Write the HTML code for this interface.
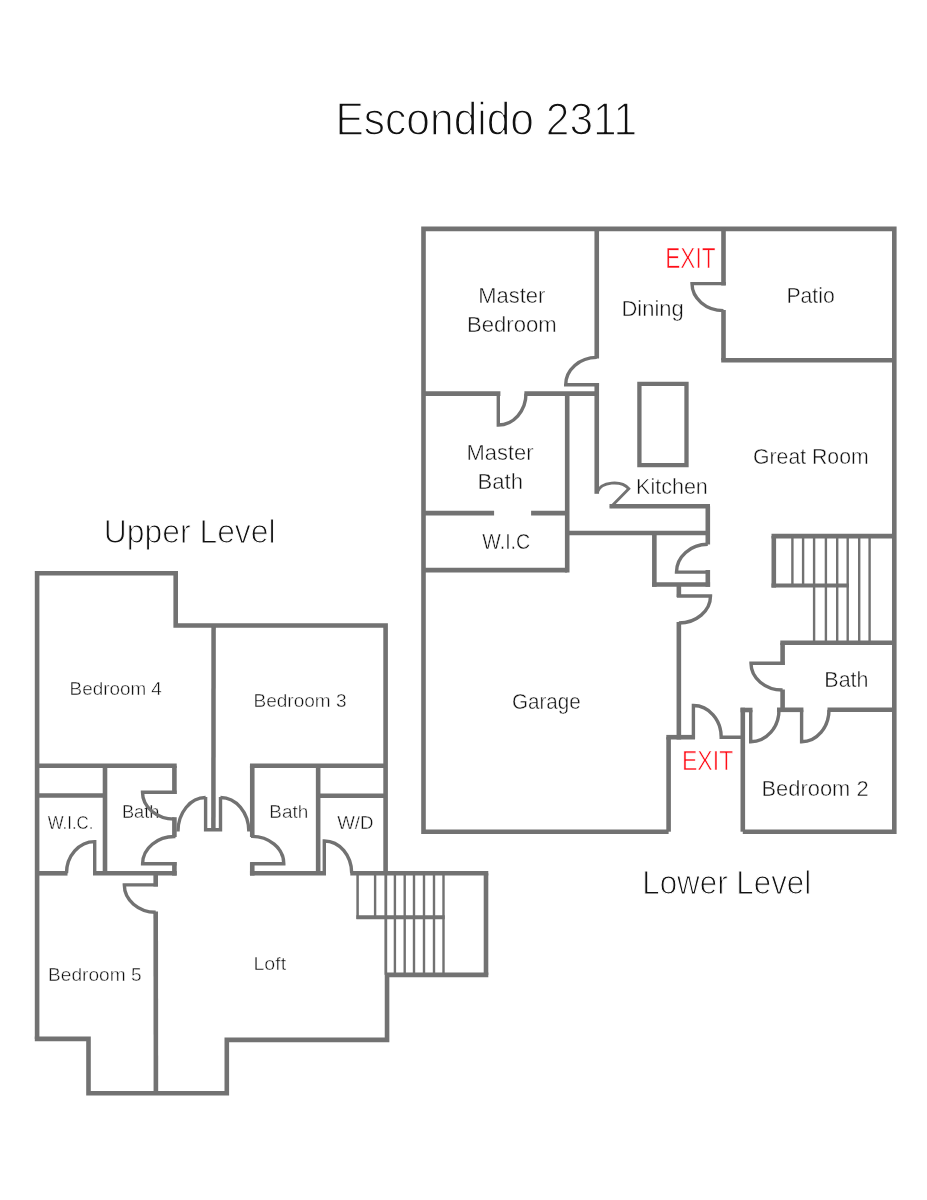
<!DOCTYPE html>
<html lang="en">
<head>
<meta charset="utf-8">
<title>Escondido 2311</title>
<style>
html,body{margin:0;padding:0;background:#fff;}
body{width:927px;height:1200px;overflow:hidden;}
svg{display:block;}
text{font-family:"Liberation Sans",sans-serif;stroke:#fff;paint-order:fill stroke;stroke-linejoin:round;}
</style>
</head>
<body>
<svg width="927" height="1200" viewBox="0 0 927 1200">
<rect width="927" height="1200" fill="#ffffff"/>
<g style="will-change:transform">
<text x="335.50" y="134.58" font-size="45.46" fill="#111111" stroke-width="1.35" textLength="301.70" lengthAdjust="spacingAndGlyphs">Escondido 2311</text>
<text x="103.74" y="543.00" font-size="32.68" fill="#111111" stroke-width="1.0" textLength="171.87" lengthAdjust="spacingAndGlyphs">Upper Level</text>
<text x="642.21" y="893.90" font-size="32.96" fill="#111111" stroke-width="1.0" textLength="169.00" lengthAdjust="spacingAndGlyphs">Lower Level</text>
<text x="478.15" y="303.03" font-size="21.58" fill="#101010" stroke-width="0.45" textLength="67.31" lengthAdjust="spacingAndGlyphs">Master</text>
<text x="467.00" y="332.23" font-size="21.58" fill="#101010" stroke-width="0.45" textLength="89.67" lengthAdjust="spacingAndGlyphs">Bedroom</text>
<text x="621.50" y="315.62" font-size="21.58" fill="#101010" stroke-width="0.45" textLength="62.30" lengthAdjust="spacingAndGlyphs">Dining</text>
<text x="786.38" y="303.12" font-size="21.58" fill="#101010" stroke-width="0.45" textLength="48.41" lengthAdjust="spacingAndGlyphs">Patio</text>
<text x="466.50" y="459.83" font-size="21.58" fill="#101010" stroke-width="0.45" textLength="67.03" lengthAdjust="spacingAndGlyphs">Master</text>
<text x="477.50" y="488.83" font-size="21.58" fill="#101010" stroke-width="0.45" textLength="45.53" lengthAdjust="spacingAndGlyphs">Bath</text>
<text x="482.34" y="548.83" font-size="21.58" fill="#101010" stroke-width="0.45" textLength="47.89" lengthAdjust="spacingAndGlyphs">W.I.C</text>
<text x="636.03" y="493.83" font-size="21.58" fill="#101010" stroke-width="0.45" textLength="71.84" lengthAdjust="spacingAndGlyphs">Kitchen</text>
<text x="753.00" y="464.43" font-size="21.58" fill="#101010" stroke-width="0.45" textLength="115.68" lengthAdjust="spacingAndGlyphs">Great Room</text>
<text x="511.95" y="709.23" font-size="21.58" fill="#101010" stroke-width="0.45" textLength="68.87" lengthAdjust="spacingAndGlyphs">Garage</text>
<text x="824.37" y="686.52" font-size="21.58" fill="#101010" stroke-width="0.45" textLength="44.13" lengthAdjust="spacingAndGlyphs">Bath</text>
<text x="761.50" y="795.83" font-size="21.58" fill="#101010" stroke-width="0.45" textLength="107.14" lengthAdjust="spacingAndGlyphs">Bedroom 2</text>
<text x="665.23" y="268.12" font-size="28.70" fill="#ff0d17" stroke-width="0.65" textLength="50.27" lengthAdjust="spacingAndGlyphs">EXIT</text>
<text x="682.01" y="769.83" font-size="28.56" fill="#ff0d17" stroke-width="0.65" textLength="51.20" lengthAdjust="spacingAndGlyphs">EXIT</text>
<text x="69.63" y="695.41" font-size="18.46" fill="#101010" stroke-width="0.42" textLength="92.18" lengthAdjust="spacingAndGlyphs">Bedroom 4</text>
<text x="253.48" y="706.61" font-size="18.46" fill="#101010" stroke-width="0.42" textLength="93.14" lengthAdjust="spacingAndGlyphs">Bedroom 3</text>
<text x="48.10" y="981.01" font-size="18.46" fill="#101010" stroke-width="0.42" textLength="93.54" lengthAdjust="spacingAndGlyphs">Bedroom 5</text>
<text x="253.41" y="970.01" font-size="18.46" fill="#101010" stroke-width="0.42" textLength="32.69" lengthAdjust="spacingAndGlyphs">Loft</text>
<text x="47.73" y="829.01" font-size="18.46" fill="#101010" stroke-width="0.42" textLength="45.63" lengthAdjust="spacingAndGlyphs">W.I.C.</text>
<text x="121.98" y="818.21" font-size="18.46" fill="#101010" stroke-width="0.42" textLength="37.48" lengthAdjust="spacingAndGlyphs">Bath</text>
<text x="269.35" y="818.21" font-size="18.46" fill="#101010" stroke-width="0.42" textLength="38.99" lengthAdjust="spacingAndGlyphs">Bath</text>
<text x="337.26" y="829.01" font-size="18.46" fill="#101010" stroke-width="0.42" textLength="36.30" lengthAdjust="spacingAndGlyphs">W/D</text>
</g>
<g fill="none" stroke="#727272" stroke-linecap="butt" stroke-linejoin="miter">
<path d="M668.6,831.7 L423.5,831.7 L423.5,228.9 L894.3,228.9 L894.3,831.7 L742.8,831.7" stroke-width="4.6"/>
<path d="M596.75,228.9 L596.75,358.5" stroke-width="4.6"/>
<path d="M596.75,357.4 A31.2 27.4 0 0 0 565.7,384.8 L599.05,384.8" stroke-width="3.4"/>
<path d="M596.75,383 L596.75,493.8" stroke-width="4.6"/>
<path d="M423.5,393.6 L500.4,393.6" stroke-width="4.6"/>
<path d="M498.3,393.6 L498.3,425 A27.7 31.4 0 0 0 526,393.6" stroke-width="3.4"/>
<path d="M524.4,393.6 L596.75,393.6" stroke-width="4.6"/>
<path d="M567.2,393.6 L567.2,572.4" stroke-width="4.6"/>
<path d="M423.5,513.1 L494.1,513.1" stroke-width="4.6"/>
<path d="M531.1,513.1 L567.2,513.1" stroke-width="4.6"/>
<path d="M423.5,570.1 L567.2,570.1" stroke-width="4.6"/>
<path d="M639.4,383.9 L686.5,383.9 L686.5,465.2 L639.4,465.2 Z" stroke-width="4.3"/>
<path d="M597.15,492.3 C601,481.3 621.4,480.1 628.8,488.7 L610.6,507.3" stroke-width="2.9"/>
<path d="M609.5,506.3 L710,506.3" stroke-width="4.6"/>
<path d="M707.8,506.3 L707.8,544.5" stroke-width="4.6"/>
<path d="M707.8,544.3 A31.3 27.8 0 0 0 676.5,572.1 L710,572.1" stroke-width="3.4"/>
<path d="M707.8,570 L707.8,586.8" stroke-width="4.6"/>
<path d="M567.2,533 L707.8,533" stroke-width="4.6"/>
<path d="M654.35,533 L654.35,586.8" stroke-width="4.6"/>
<path d="M652.1,584.5 L710.1,584.5" stroke-width="4.6"/>
<path d="M678.85,584.5 L678.85,597" stroke-width="4.6"/>
<path d="M676.85,596 L710.5,596 A31.6 27 0 0 1 678.85,623" stroke-width="3.4"/>
<path d="M678.85,622 L678.85,739.5" stroke-width="4.6"/>
<path d="M666.3000000000001,737.2 L695,737.2" stroke-width="4.6"/>
<path d="M668.6,737.2 L668.6,831.7" stroke-width="4.6"/>
<path d="M693.4,738.7 L693.4,705.5 A27.8 31.7 0 0 1 721.2,737.2 L742.8,737.2" stroke-width="3.4"/>
<path d="M742.8,707.7 L742.8,831.7" stroke-width="4.6"/>
<path d="M740.5,710 L752.5,710" stroke-width="4.6"/>
<path d="M750.7,710 L750.7,741.8 A28.3 31.8 0 0 0 779,710" stroke-width="3.4"/>
<path d="M782.6,642.8 L782.6,665" stroke-width="4.6"/>
<path d="M784.6,663.3 L751,663.3 A31.6 26.7 0 0 0 782.6,690" stroke-width="3.4"/>
<path d="M782.6,689.5 L782.6,712" stroke-width="4.6"/>
<path d="M780.3000000000001,642.8 L894.3,642.8" stroke-width="4.6"/>
<path d="M777,709.8 L803.4,709.8" stroke-width="4.6"/>
<path d="M801.6,709.8 L801.6,741.8 A27.4 32 0 0 0 829,709.8" stroke-width="3.4"/>
<path d="M827.5,709.8 L894.3,709.8" stroke-width="4.6"/>
<path d="M723.5,228.9 L723.5,285.5" stroke-width="4.6"/>
<path d="M725.8,283.6 L692,283.6 A31.5 27 0 0 0 723.5,310.6" stroke-width="3.4"/>
<path d="M723.5,310 L723.5,360.2" stroke-width="4.6"/>
<path d="M721.2,360.2 L894.3,360.2" stroke-width="4.6"/>
<path d="M771.5,536.1 L894.3,536.1" stroke-width="4.6"/>
<path d="M773.8,536 L773.8,587.6" stroke-width="4.6"/>
<path d="M771.5,585.5 L849,585.5" stroke-width="4.2"/>
<path d="M792.4,536 L792.4,585.5" stroke-width="2.4"/>
<path d="M803.1,536 L803.1,585.5" stroke-width="2.4"/>
<path d="M814.1,536 L814.1,642.8" stroke-width="2.4"/>
<path d="M825.9,536 L825.9,642.8" stroke-width="2.4"/>
<path d="M837.2,536 L837.2,642.8" stroke-width="2.4"/>
<path d="M847.7,536 L847.7,642.8" stroke-width="2.4"/>
<path d="M859.2,536 L859.2,642.8" stroke-width="2.4"/>
<path d="M869.6,536 L869.6,642.8" stroke-width="2.4"/>
<path d="M37.1,1038.9 L37.1,573.3 L175.7,573.3 L175.7,625.5 L385.6,625.5 L385.6,873.3" stroke-width="4.6"/>
<path d="M34.800000000000004,1038.9 L88.5,1038.9 L88.5,1093.3 L226.8,1093.3 L226.8,1039.85 L387.05,1039.85 L387.05,974.9" stroke-width="4.6"/>
<path d="M213.6,625.5 L213.4,831" stroke-width="4.5"/>
<path d="M205.6,797 L205.6,829.7 L220.5,829.7 L220.5,797" stroke-width="3.4"/>
<path d="M205.6,797.5 A27.6 33.9 0 0 0 178,831.4" stroke-width="3.3"/>
<path d="M220.5,797.5 A28.3 33.9 0 0 1 248.8,831.4" stroke-width="3.3"/>
<path d="M37.1,765.8 L176.7,765.8" stroke-width="4.6"/>
<path d="M174.4,765.8 L174.4,794" stroke-width="4.6"/>
<path d="M176.6,792.3 L142.5,792.3 A31.9 26.8 0 0 0 174.4,819.1" stroke-width="3.4"/>
<path d="M174.4,817.2 L174.4,837" stroke-width="4.6"/>
<path d="M175.5,836.5 A32 27.2 0 0 0 142.6,863.7 L176.5,863.7" stroke-width="3.4"/>
<path d="M174.4,862 L174.4,875.5999999999999" stroke-width="4.6"/>
<path d="M37.1,795.5 L105,795.5" stroke-width="4.6"/>
<path d="M105,765.8 L105,873.3" stroke-width="4.6"/>
<path d="M37.1,873.3 L67.5,873.3" stroke-width="4.6"/>
<path d="M66.5,873.3 A28.2 31.6 0 0 1 94.7,841.6 L94.7,873.3" stroke-width="3.4"/>
<path d="M93,873.3 L176.7,873.3" stroke-width="4.6"/>
<path d="M155.7,873.3 L155.7,886.5" stroke-width="4.6"/>
<path d="M157.9,884.85 L124.3,884.85 A31.4 27.4 0 0 0 155.7,912.25" stroke-width="3.4"/>
<path d="M155.7,911.6 L155.9,1093.3" stroke-width="4.6"/>
<path d="M249.95,765.8 L385.6,765.8" stroke-width="4.6"/>
<path d="M252.25,765.8 L252.25,837" stroke-width="4.6"/>
<path d="M251,836.4 A32 27.4 0 0 1 283.8,863.8 L250.2,863.8" stroke-width="3.4"/>
<path d="M252.25,862.3 L252.25,875.5999999999999" stroke-width="4.6"/>
<path d="M249.95,873.3 L326,873.3" stroke-width="4.6"/>
<path d="M318.15,765.8 L318.15,873.3" stroke-width="4.6"/>
<path d="M318.3,795.7 L385.6,795.7" stroke-width="4.6"/>
<path d="M324.3,873.3 L324.3,841 A27.4 32.2 0 0 1 351.7,873.3" stroke-width="3.4"/>
<path d="M350.3,873.3 L488.3,873.3" stroke-width="4.6"/>
<path d="M486,873.3 L486,974.9" stroke-width="4.6"/>
<path d="M385.2,974.9 L488.3,974.9" stroke-width="4.6"/>
<path d="M357.6,873.3 L357.6,918.9" stroke-width="2.5"/>
<path d="M356.4,917.3 L444.7,917.3" stroke-width="4.0"/>
<path d="M385.8,873.3 L385.8,974.9" stroke-width="2.8"/>
<path d="M375.1,873.3 L375.1,917.1" stroke-width="2.4"/>
<path d="M394.9,873.3 L394.9,974.9" stroke-width="2.4"/>
<path d="M404.7,873.3 L404.7,974.9" stroke-width="2.4"/>
<path d="M414,873.3 L414,974.9" stroke-width="2.4"/>
<path d="M424,873.3 L424,974.9" stroke-width="2.4"/>
<path d="M434,873.3 L434,974.9" stroke-width="2.4"/>
<path d="M443.5,873.3 L443.5,974.9" stroke-width="2.4"/>
</g>
</svg>
</body>
</html>
